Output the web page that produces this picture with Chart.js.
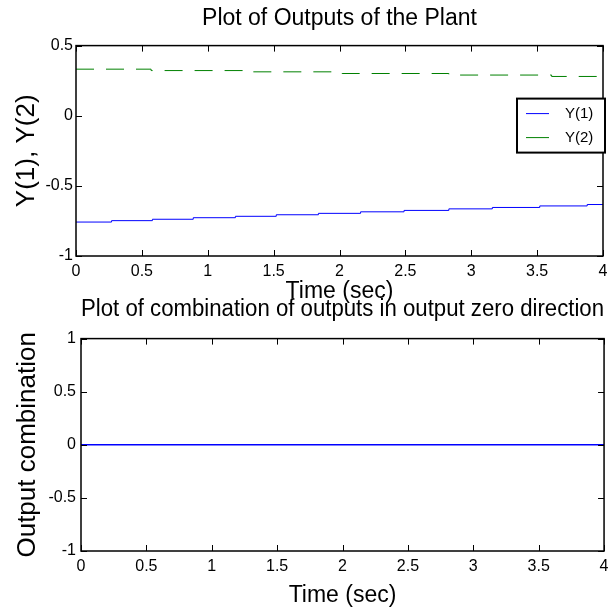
<!DOCTYPE html>
<html>
<head>
<meta charset="utf-8">
<script src="https://cdn.jsdelivr.net/npm/chart.js@4.4.1/dist/chart.umd.min.js"></script>
<style>
  body { margin: 0; background: #fff; }
  #wrap { position: relative; width: 614px; height: 614px; overflow: hidden; background: #fff; }
  canvas { position: absolute; left: 0; }
  #topChart { top: 0; }
  #bottomChart { top: 290px; }
</style>
</head>
<body>
<div id="wrap">
  <canvas id="topChart" width="614" height="310"></canvas>
  <canvas id="bottomChart" width="614" height="324"></canvas>
</div>
<script>
// ticks
const timeTicks = [0, 0.5, 1, 1.5, 2, 2.5, 3, 3.5, 4];
const timeTickLabels = ['0', '0.5', '1', '1.5', '2', '2.5', '3', '3.5', '4'];
const topYTicks = [-1, -0.5, 0, 0.5];
const topYTickLabels = ['-1', '-0.5', '0', '0.5'];
const bottomYTicks = [-1, -0.5, 0, 0.5, 1];
const bottomYTickLabels = ['-1', '-0.5', '0', '0.5', '1'];

// Y(1) - steps
const y1Time   = [0, 0.27, 0.58, 0.89, 1.21, 1.52, 1.84, 2.16, 2.49, 2.83, 3.16, 3.52, 3.88, 4];
const y1Values = [-0.758, -0.748, -0.738, -0.727, -0.717, -0.706, -0.696, -0.685, -0.675, -0.664, -0.654, -0.643, -0.633, -0.633];

// Y(2)
const y2Time   = [0, 0.57, 1.27, 2.02, 2.83, 3.61, 4];
const y2Values = [0.332, 0.322, 0.313, 0.301, 0.290, 0.280, 0.280];

// output combination
const combTime   = [0, 4];
const combValues = [0, 0];

Chart.defaults.font.family = '"Liberation Sans", Arial, sans-serif';
Chart.defaults.color = '#000';

function toPoints(xs, ys) {
  return xs.map((x, i) => ({ x: x, y: ys[i] }));
}

function fixedTicks(values) {
  return (scale) => { scale.ticks = values.map(v => ({ value: v })); };
}

function tickLabel(values, labels) {
  return (v) => {
    const i = values.indexOf(v);
    return i >= 0 ? labels[i] : '';
  };
}

// matlab style box with inward ticks
const matlabBox = {
  id: 'matlabBox',
  afterDatasetsDraw(chart) {
    const { ctx, chartArea: a, scales } = chart;
    const len = 6;
    ctx.save();
    ctx.strokeStyle = '#000';
    ctx.lineWidth = 1;
    ctx.beginPath();
    scales.x.ticks.forEach(t => {
      const px = Math.round(scales.x.getPixelForValue(t.value)) + 0.5;
      ctx.moveTo(px, a.bottom); ctx.lineTo(px, a.bottom - len);
      ctx.moveTo(px, a.top); ctx.lineTo(px, a.top + len);
    });
    scales.y.ticks.forEach(t => {
      const py = Math.round(scales.y.getPixelForValue(t.value)) + 0.5;
      ctx.moveTo(a.left, py); ctx.lineTo(a.left + len, py);
      ctx.moveTo(a.right, py); ctx.lineTo(a.right - len, py);
    });
    ctx.stroke();
    ctx.lineWidth = 1.5;
    ctx.strokeRect(a.left, a.top, a.right - a.left, a.bottom - a.top);
    ctx.restore();
  }
};

const boxLegend = {
  id: 'boxLegend',
  afterDraw(chart) {
    const { ctx, chartArea: a } = chart;
    const w = 88, h = 54;
    const x0 = a.right + 2 - w, y0 = a.top + 53;
    ctx.save();
    ctx.fillStyle = '#fff';
    ctx.fillRect(x0, y0, w, h);
    ctx.strokeStyle = '#000';
    ctx.lineWidth = 2;
    ctx.strokeRect(x0, y0, w, h);
    ctx.font = '15px "Liberation Sans", Arial, sans-serif';
    ctx.textBaseline = 'middle';
    ctx.fillStyle = '#000';
    chart.data.datasets.forEach((ds, i) => {
      const y = y0 + 15 + i * 24;
      ctx.strokeStyle = ds.borderColor;
      ctx.lineWidth = 1;
      ctx.setLineDash([]);
      ctx.beginPath();
      ctx.moveTo(x0 + 9, y); ctx.lineTo(x0 + 32, y);
      ctx.stroke();
      ctx.fillText(ds.label, x0 + 48, y);
    });
    ctx.restore();
  }
};

function axisOptions(opt) {
  return {
    x: {
      type: 'linear', min: 0, max: 4,
      afterBuildTicks: fixedTicks(timeTicks),
      afterFit: (s) => { s.height = opt.xHeight; },
      grid: { display: false, drawTicks: false }, border: { display: false },
      ticks: { font: { size: 16 }, padding: 5.5, maxRotation: 0, autoSkip: false,
               callback: tickLabel(timeTicks, timeTickLabels) },
      title: { display: true, text: 'Time (sec)', font: { size: 23 }, padding: { top: 0, bottom: 0 } }
    },
    y: {
      type: 'linear', min: opt.yMin, max: opt.yMax,
      afterBuildTicks: fixedTicks(opt.yTicks),
      afterFit: (s) => { s.width = opt.yWidth; },
      grid: { display: false, drawTicks: false }, border: { display: false },
      ticks: { font: { size: 16 }, padding: opt.yPad, autoSkip: false,
               callback: tickLabel(opt.yTicks, opt.yLabels) },
      title: { display: true, text: opt.yTitle, font: { size: 26 }, padding: { top: opt.yTitlePad, bottom: 0 } }
    }
  };
}

new Chart(document.getElementById('topChart'), {
  type: 'line',
  data: {
    datasets: [{
      label: 'Y(1)',
      data: toPoints(y1Time, y1Values),
      borderColor: '#0000ff',
      borderWidth: 1,
      pointRadius: 0,
      stepped: true,
      fill: false
    }, {
      label: 'Y(2)',
      data: toPoints(y2Time, y2Values),
      borderColor: '#008000',
      borderWidth: 1,
      borderDash: [18, 12],
      pointRadius: 0,
      stepped: true,
      fill: false
    }]
  },
  options: {
    responsive: false,
    animation: false,
    layout: { padding: { top: 0, left: 0, right: 11, bottom: 5 } },
    plugins: {
      legend: { display: false },
      tooltip: { enabled: false },
      title: {
        display: true, text: 'Plot of Outputs of the Plant', fullSize: false,
        font: { size: 23, weight: 'normal' }, color: '#000',
        padding: { top: 5, bottom: 13 }
      }
    },
    scales: axisOptions({ xHeight: 49, yWidth: 76, yMin: -1, yMax: 0.5, yTicks: topYTicks,
                          yLabels: topYTickLabels, yPad: 3, yTitle: 'Y(1), Y(2)', yTitlePad: 11 })
  },
  plugins: [matlabBox, boxLegend]
});

new Chart(document.getElementById('bottomChart'), {
  type: 'line',
  data: {
    datasets: [{
      label: 'combination',
      data: toPoints(combTime, combValues),
      borderColor: '#0000ff',
      borderWidth: 1.5,
      pointRadius: 0,
      fill: false
    }]
  },
  options: {
    responsive: false,
    animation: false,
    layout: { padding: { top: 0, left: 0, right: 8, bottom: 5 } },
    plugins: {
      legend: { display: false },
      tooltip: { enabled: false },
      title: {
        display: true, text: 'Plot of combination of outputs in output zero direction', fullSize: false,
        font: { size: 23, weight: 'normal' }, color: '#000',
        padding: { top: 5.7, bottom: 15.3 }
      }
    },
    scales: axisOptions({ xHeight: 58, yWidth: 81, yMin: -1, yMax: 1, yTicks: bottomYTicks,
                          yLabels: bottomYTickLabels, yPad: 5, yTitle: 'Output combination', yTitlePad: 12 })
  },
  plugins: [matlabBox]
});
</script>
</body>
</html>
